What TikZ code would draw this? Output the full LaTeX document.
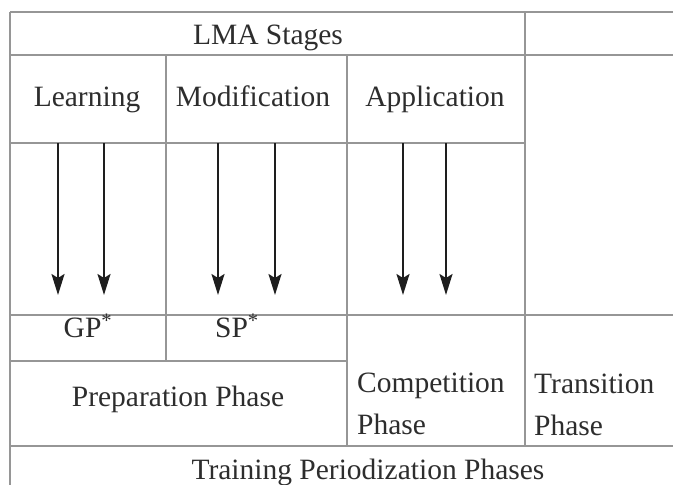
\documentclass[tikz,border=0pt]{standalone}
\usepackage{fontspec}
\setmainfont{Liberation Serif}
\usepackage{tikz}
\usetikzlibrary{arrows.meta}
\definecolor{LMAGrid}{RGB}{150, 150, 150}
\definecolor{LMAText}{RGB}{45, 45, 45}
\definecolor{LMAArrow}{RGB}{30, 30, 30}

\begin{document}
\begin{tikzpicture}[x=1pt, y=-1pt,
    cell/.style={text=LMAText, inner sep=0pt, anchor=base, font=\fontsize{29.5}{34}\selectfont},
    grid/.style={LMAGrid, line width=1.6pt},
    flow/.style={LMAArrow, line width=2pt, -{Stealth[length=21pt, width=13pt, inset=4pt]}}]
    \path[use as bounding box] (0,0) rectangle (673,485);
    % table rules
    \draw[grid] (10,12) -- (673,12);
    \draw[grid] (10,55) -- (673,55);
    \draw[grid] (10,143) -- (525,143);
    \draw[grid] (10,315) -- (673,315);
    \draw[grid] (10,361) -- (347,361);
    \draw[grid] (10,446) -- (673,446);
    \draw[grid] (10,12) -- (10,485);
    \draw[grid] (166,55) -- (166,361);
    \draw[grid] (347,55) -- (347,446);
    \draw[grid] (525,12) -- (525,446);
    % stage labels
    \node[cell] (stages) at (268,44) {LMA Stages};
    \node[cell] (learning) at (87,106) {Learning};
    \node[cell] (modification) at (253,106) {Modification};
    \node[cell] (application) at (435,106) {Application};
    % phase labels (base = last line)
    \node[cell] (gp) at (88,337) {GP\textsuperscript{*}};
    \node[cell] (sp) at (237,337) {SP\textsuperscript{*}};
    \node[cell] (preparation) at (178,406) {Preparation Phase};
    \node[cell, anchor=base west, align=left] (competition) at (357,434) {Competition\\[8pt]Phase};
    \node[cell, anchor=base west, align=left] (transition) at (534,435) {Transition\\[8pt]Phase};
    \node[cell] (training) at (368,479) {Training Periodization Phases};
    % arrows
    \foreach \x [count=\i] in {58,104,218,275,403,446} {
      \coordinate (top\i) at (\x,143);
      \coordinate (tip\i) at (\x,295);
      \draw[flow] (top\i) -- (tip\i);
    }
\end{tikzpicture}
\end{document}
